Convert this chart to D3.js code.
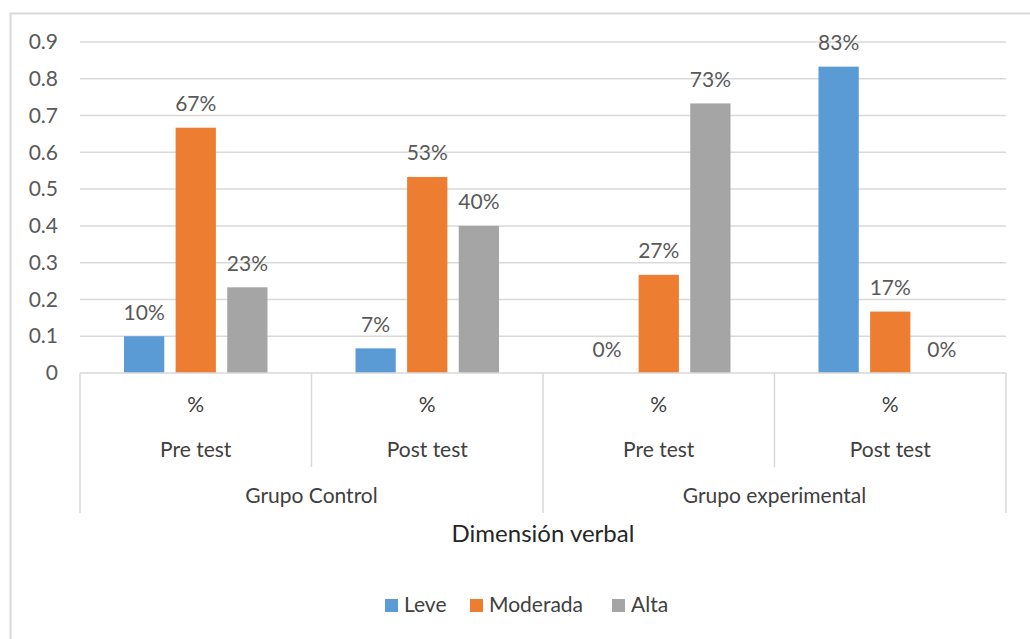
<!DOCTYPE html>
<html>
<head>
<meta charset="utf-8">
<script src="https://cdn.jsdelivr.net/npm/d3@7"></script>
<style>
  body { margin: 0; background: #fff; }
  text { font-family: Lato, "Open Sans", sans-serif; }
</style>
</head>
<body>
<svg id="chart" width="1030" height="639"></svg>
<script>
var groups = ['Grupo Control', 'Grupo experimental'];
var tests = ['Pre test', 'Post test'];
var series = ['Leve', 'Moderada', 'Alta'];
var colors = ['#5b9bd5', '#ed7d31', '#a5a5a5'];
var leve = [0.10, 0.067, 0, 0.833];
var moderada = [0.667, 0.533, 0.267, 0.167];
var alta = [0.233, 0.40, 0.733, 0];
var labels = [['10%', '67%', '23%'], ['7%', '53%', '40%'], ['0%', '27%', '73%'], ['83%', '17%', '0%']];
var yTicks = [0, 0.1, 0.2, 0.3, 0.4, 0.5, 0.6, 0.7, 0.8, 0.9];

var margin = {top: 42, left: 80},
    width = 926,
    height = 331;

var svg = d3.select('#chart');

// outer frame (right and bottom edges are cut off in the picture)
svg.append('rect')
    .attr('x', 10.5).attr('y', 13.5)
    .attr('width', 1040).attr('height', 660)
    .attr('fill', 'none')
    .attr('stroke', '#d9d9d9')
    .attr('stroke-width', 2);

var g = svg.append('g')
    .attr('transform', 'translate(' + margin.left + ',' + margin.top + ')');

var cats = [];
groups.forEach(function(gr) {
    tests.forEach(function(t) { cats.push(gr + '|' + t); });
});
var vals = [leve, moderada, alta];

var x0 = d3.scaleBand().domain(cats).range([0, width]);
var x1 = d3.scaleBand().domain(series).range([44, x0.bandwidth() - 44]).paddingInner(0.22);
var y = d3.scaleLinear().domain([0, 0.9]).range([height, 0]);

// gridlines
g.selectAll('.grid')
    .data(yTicks.slice(1))
    .enter().append('line')
    .attr('x1', 0).attr('x2', width)
    .attr('y1', function(d) { return y(d); })
    .attr('y2', function(d) { return y(d); })
    .attr('stroke', '#d9d9d9')
    .attr('stroke-width', 1.5);

// y axis labels
var yAxis = g.append('g')
    .call(d3.axisLeft(y).tickValues(yTicks).tickSize(0).tickPadding(22)
        .tickFormat(function(d) { return d === 0 ? '0' : d3.format('.1f')(d); }));
yAxis.select('.domain').remove();
yAxis.selectAll('text')
    .attr('fill', '#595959')
    .style('font-size', '21px')
    .style('font-family', 'Lato, sans-serif');

// bars
cats.forEach(function(c, ci) {
    series.forEach(function(s, si) {
        var v = vals[si][ci];
        var bx = x0(c) + x1(s);
        g.append('rect')
            .attr('x', bx)
            .attr('y', y(v))
            .attr('width', x1.bandwidth())
            .attr('height', height - y(v))
            .attr('fill', colors[si]);
        g.append('text')
            .attr('x', bx + x1.bandwidth() / 2)
            .attr('y', y(v) - 16.5)
            .attr('text-anchor', 'middle')
            .attr('fill', '#595959')
            .style('font-size', '21px')
            .text(labels[ci][si]);
    });
});

// category axis
g.append('line')
    .attr('x1', 0).attr('x2', width)
    .attr('y1', height).attr('y2', height)
    .attr('stroke', '#d9d9d9').attr('stroke-width', 1.5);

var bounds = d3.range(cats.length + 1).map(function(i) {
    return i < cats.length ? x0(cats[i]) : width;
});
bounds.forEach(function(bx, i) {
    var outer = (i % 2 === 0);
    g.append('line')
        .attr('x1', bx).attr('x2', bx)
        .attr('y1', height)
        .attr('y2', height + (outer ? 140 : 94))
        .attr('stroke', '#d9d9d9').attr('stroke-width', 1.5);
});

cats.forEach(function(c) {
    var cx = x0(c) + x0.bandwidth() / 2;
    g.append('text')
        .attr('x', cx).attr('y', height + 39)
        .attr('text-anchor', 'middle')
        .attr('fill', '#404040')
        .style('font-size', '21px')
        .text('%');
    g.append('text')
        .attr('x', cx).attr('y', height + 84)
        .attr('text-anchor', 'middle')
        .attr('fill', '#404040')
        .style('font-size', '21px')
        .text(c.split('|')[1]);
});

groups.forEach(function(gr, gi) {
    var cx = (bounds[gi * 2] + bounds[gi * 2 + 2]) / 2;
    g.append('text')
        .attr('x', cx).attr('y', height + 130)
        .attr('text-anchor', 'middle')
        .attr('fill', '#404040')
        .style('font-size', '21px')
        .text(gr);
});

// axis title
svg.append('text')
    .attr('x', margin.left + width / 2).attr('y', 542)
    .attr('text-anchor', 'middle')
    .attr('fill', '#262626')
    .style('font-size', '24px')
    .text('Dimensión verbal');

// legend
var legendX = [385, 470, 612];
var legend = svg.append('g');
series.forEach(function(s, i) {
    legend.append('rect')
        .attr('x', legendX[i]).attr('y', 599)
        .attr('width', 13).attr('height', 13)
        .attr('fill', colors[i]);
    legend.append('text')
        .attr('x', legendX[i] + 19).attr('y', 612)
        .attr('fill', '#404040')
        .style('font-size', '21px')
        .text(s);
});
</script>
</body>
</html>
